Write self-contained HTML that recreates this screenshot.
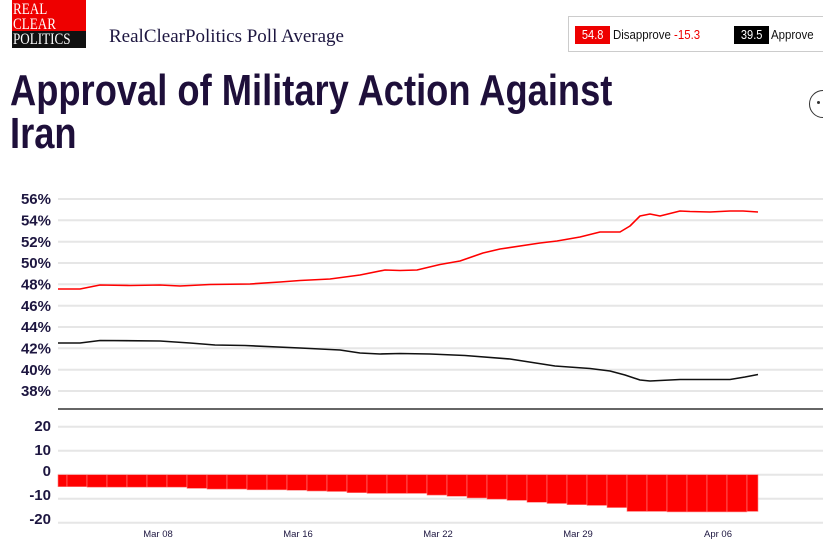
<!DOCTYPE html>
<html><head><meta charset="utf-8"><style>
body{margin:0;width:823px;height:544px;overflow:hidden;background:#fff;position:relative;font-family:"Liberation Sans",sans-serif}
.abs{position:absolute}
</style></head><body>
<div class="abs" style="left:12px;top:0;width:74px;height:48px;background:#e00;"></div>
<div class="abs" style="left:12px;top:31px;width:74px;height:17px;background:#111;"></div>
<div class="abs" style="left:13px;top:2px;font-family:'Liberation Serif',serif;font-size:16px;line-height:15px;color:#fff;transform:scaleX(0.82);transform-origin:0 0">REAL<br>CLEAR<br>POLITICS</div>
<div class="abs" style="left:109px;top:26px;font-family:'Liberation Serif',serif;font-size:19px;color:#1d1640">RealClearPolitics Poll Average</div>
<div class="abs" style="left:568px;top:16px;width:260px;height:36px;border:1px solid #ccc;box-sizing:border-box"></div>
<div class="abs" style="left:575px;top:26px;width:35px;height:18px;background:#e00;color:#fff;font-size:13px;text-align:center;line-height:18px"><span style="display:inline-block;transform:scaleX(0.85)">54.8</span></div>
<div class="abs" style="left:613px;top:26px;font-size:13px;line-height:18px;color:#111;transform:scaleX(0.88);transform-origin:0 0">Disapprove <span style="color:#e00">-15.3</span></div>
<div class="abs" style="left:734px;top:26px;width:35px;height:18px;background:#000;color:#fff;font-size:13px;text-align:center;line-height:18px"><span style="display:inline-block;transform:scaleX(0.85)">39.5</span></div>
<div class="abs" style="left:771px;top:26px;font-size:13px;line-height:18px;color:#111;transform:scaleX(0.88);transform-origin:0 0">Approve</div>
<div class="abs" style="left:10px;top:69px;font-weight:bold;font-size:44px;line-height:43px;color:#1e0f3a;white-space:nowrap;transform:scaleX(0.825);transform-origin:0 0">Approval of Military Action Against<br>Iran</div>
<div class="abs" style="left:809px;top:90px;width:26px;height:26px;border:1px solid #333;border-radius:50%"></div>
<div class="abs" style="left:817px;top:101px;width:3px;height:3px;background:#333;border-radius:50%"></div>
<svg class="abs" style="left:0;top:0" width="823" height="544">
<g stroke="#e6e6e6" stroke-width="2">
<line x1="58" x2="823" y1="199" y2="199"/><line x1="58" x2="823" y1="220.3" y2="220.3"/><line x1="58" x2="823" y1="241.7" y2="241.7"/><line x1="58" x2="823" y1="263" y2="263"/><line x1="58" x2="823" y1="284.3" y2="284.3"/><line x1="58" x2="823" y1="305.7" y2="305.7"/><line x1="58" x2="823" y1="327" y2="327"/><line x1="58" x2="823" y1="348.3" y2="348.3"/><line x1="58" x2="823" y1="369.7" y2="369.7"/><line x1="58" x2="823" y1="391" y2="391"/>
<line x1="58" x2="823" y1="426.7" y2="426.7"/><line x1="58" x2="823" y1="450.7" y2="450.7"/><line x1="58" x2="823" y1="474.7" y2="474.7"/><line x1="58" x2="823" y1="498.7" y2="498.7"/><line x1="58" x2="823" y1="522.7" y2="522.7"/>
</g>
<line x1="58" x2="823" y1="409" y2="409" stroke="#666" stroke-width="2"/>
<g font-family="Liberation Sans, sans-serif" font-weight="bold" font-size="15" fill="#1d1640" text-anchor="end">
<text x="51" y="204">56%</text><text x="51" y="225.5">54%</text><text x="51" y="247">52%</text><text x="51" y="268">50%</text><text x="51" y="289.5">48%</text><text x="51" y="311">46%</text><text x="51" y="332">44%</text><text x="51" y="353.5">42%</text><text x="51" y="375">40%</text><text x="51" y="396">38%</text>
<text x="51" y="431">20</text><text x="51" y="455">10</text><text x="51" y="476">0</text><text x="51" y="500">-10</text><text x="51" y="524">-20</text>
</g>
<polyline fill="none" stroke="#f00" stroke-width="1.6" stroke-linejoin="round" points="58,289 80,289 100,285 130,285.5 160,285 180,286 210,284.5 250,284 280,282 300,280.5 330,279 360,275 385,270 400,270.5 417,270 440,264.5 460,261 483,253 500,249 540,243 557,241 580,237 600,232 620,232 630,226 640,216 650,214 660,216 680,211 690,211.5 710,212 730,211 743,211 758,212"/>
<polyline fill="none" stroke="#111" stroke-width="1.6" stroke-linejoin="round" points="58,343 80,343 100,340.5 160,341 190,343 215,345 245,345.5 300,348 340,350 360,353 380,354 400,353.5 430,354 465,355.5 510,359 555,366 590,368.5 610,371 625,375 640,380 650,381 680,379.5 730,379.5 745,377 758,374.5"/>
<g fill="#f00" stroke="#ff8080" stroke-width="0.6" id="bars"></g>
<g font-family="Liberation Sans, sans-serif" font-size="9.5" fill="#1d1640" text-anchor="middle">
<text x="158" y="537">Mar 08</text><text x="298" y="537">Mar 16</text><text x="438" y="537">Mar 22</text><text x="578" y="537">Mar 29</text><text x="718" y="537">Apr 06</text>
</g>
</svg>
<script>
var v=[-5,-5,-5.2,-5.2,-5.2,-5.2,-5.2,-5.7,-6,-6,-6.3,-6.3,-6.5,-6.8,-7,-7.5,-7.8,-7.8,-7.8,-8.5,-9,-9.7,-10.2,-10.7,-11.5,-12,-12.5,-12.8,-13.7,-15.3,-15.3,-15.5,-15.5,-15.5,-15.5,-15.3];
var g=document.getElementById('bars'),s='';
for(var i=0;i<v.length;i++){var x0=i==0?58:47+20*i,x1=i==v.length-1?758:67+20*i;var h=-v[i]*2.4;
s+='<rect x="'+x0+'" y="474.7" width="'+(x1-x0)+'" height="'+h+'"/>';}
g.innerHTML=s;
</script>
</body></html>
